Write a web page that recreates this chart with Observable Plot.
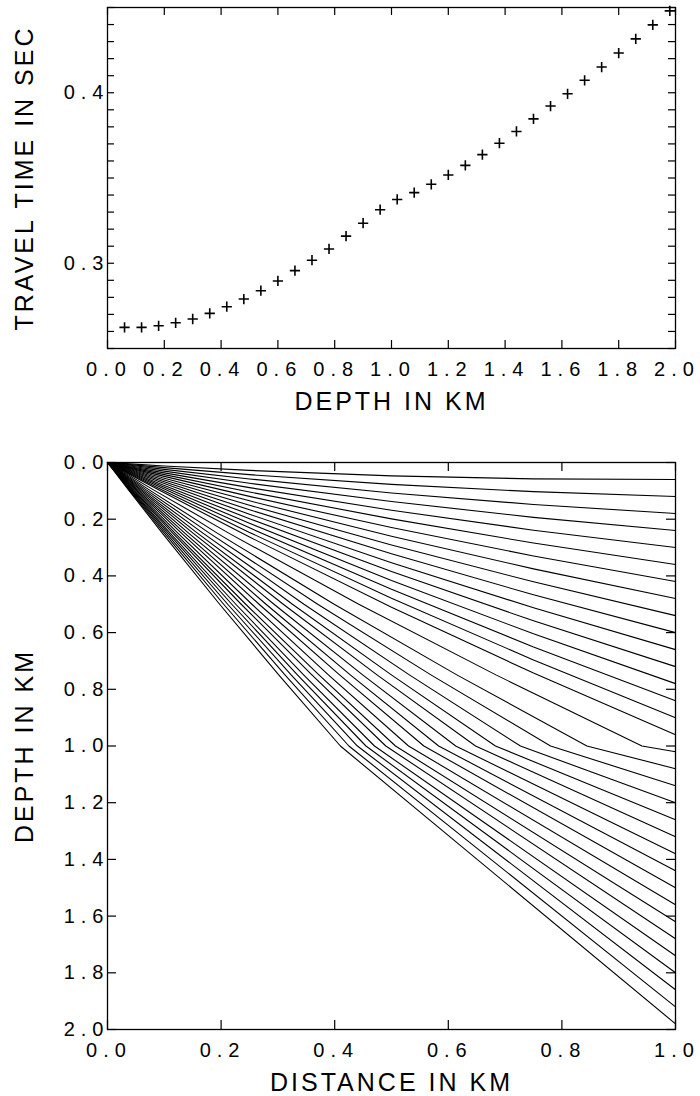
<!DOCTYPE html>
<html>
<head>
<meta charset="utf-8">
<script src="https://cdn.jsdelivr.net/npm/d3@7"></script>
<script src="https://cdn.jsdelivr.net/npm/@observablehq/plot@0.6"></script>
<style>
html, body { margin: 0; padding: 0; background: #fff; }
#chart { width: 700px; }
#chart svg { display: block; }
#chart g[aria-label$="tick label"] text { letter-spacing: 6px; }
#chart g[aria-label="text"] text { letter-spacing: 3px; }
</style>
</head>
<body>
<div id="chart"></div>
<script>
// ---- Top panel: travel time vs receiver depth ----
const depthKm = [0.06, 0.12, 0.18, 0.24, 0.30, 0.36, 0.42, 0.48, 0.54, 0.60, 0.66,
  0.72, 0.78, 0.84, 0.90, 0.96, 1.02, 1.08, 1.14, 1.20, 1.26, 1.32,
  1.38, 1.44, 1.50, 1.56, 1.62, 1.68, 1.74, 1.80, 1.86, 1.92, 1.98];
const travelTimeSec = [0.2624, 0.2624, 0.2633, 0.2651, 0.2673, 0.2706, 0.2745, 0.2790, 0.2839, 0.2896, 0.2957,
  0.3018, 0.3084, 0.3159, 0.3235, 0.3314, 0.3374, 0.3414, 0.3463, 0.3518, 0.3574, 0.3637,
  0.3704, 0.3773, 0.3847, 0.3922, 0.3994, 0.4073, 0.4151, 0.4233, 0.4316, 0.4398, 0.4480];

const topXTicks = [0.0, 0.2, 0.4, 0.6, 0.8, 1.0, 1.2, 1.4, 1.6, 1.8, 2.0];
const topYTicks = [0.25, 0.26, 0.27, 0.28, 0.29, 0.30, 0.31, 0.32, 0.33, 0.34, 0.35,
  0.36, 0.37, 0.38, 0.39, 0.40, 0.41, 0.42, 0.43, 0.44, 0.45];
const topYLabels = [0.3, 0.4];

// ---- Bottom panel: ray paths (distance x, depth z), one list per ray ----
const rayXs = [
  [0, 0.04, 0.1, 0.25, 0.5, 0.75, 1],
  [0, 0.04, 0.1, 0.25, 0.5, 0.75, 1],
  [0, 0.04, 0.1, 0.25, 0.5, 0.75, 1],
  [0, 0.04, 0.1, 0.25, 0.5, 0.75, 1],
  [0, 0.04, 0.1, 0.25, 0.5, 0.75, 1],
  [0, 0.04, 0.1, 0.25, 0.5, 0.75, 1],
  [0, 0.04, 0.1, 0.25, 0.5, 0.75, 1],
  [0, 0.04, 0.1, 0.25, 0.5, 0.75, 1],
  [0, 0.04, 0.1, 0.25, 0.5, 0.75, 1],
  [0, 0.04, 0.1, 0.25, 0.5, 0.75, 1],
  [0, 0.04, 0.1, 0.25, 0.5, 0.75, 1],
  [0, 0.04, 0.1, 0.25, 0.5, 0.75, 1],
  [0, 0.04, 0.1, 0.25, 0.5, 0.75, 1],
  [0, 0.04, 0.1, 0.25, 0.5, 0.75, 1],
  [0, 0.04, 0.1, 0.25, 0.5, 0.75, 1],
  [0, 0.04, 0.1, 0.25, 0.5, 0.75, 1],
  [0, 0.0840, 0.2142, 0.4424, 0.6847, 0.941, 1],
  [0, 0.0762, 0.1938, 0.3991, 0.6158, 0.844, 1],
  [0, 0.0708, 0.1801, 0.3701, 0.5701, 0.780, 1],
  [0, 0.0664, 0.1686, 0.3459, 0.5321, 0.727, 1],
  [0, 0.0626, 0.1589, 0.3256, 0.5004, 0.683, 1],
  [0, 0.0596, 0.1511, 0.3094, 0.4751, 0.648, 1],
  [0, 0.0565, 0.1433, 0.2931, 0.4498, 0.613, 1],
  [0, 0.0538, 0.1365, 0.2791, 0.4280, 0.583, 1],
  [0, 0.0515, 0.1306, 0.2669, 0.4091, 0.557, 1],
  [0, 0.0491, 0.1244, 0.2542, 0.3894, 0.530, 1],
  [0, 0.0471, 0.1192, 0.2434, 0.3727, 0.507, 1],
  [0, 0.0455, 0.1153, 0.2353, 0.3603, 0.490, 1],
  [0, 0.0437, 0.1107, 0.2259, 0.3457, 0.470, 1],
  [0, 0.0424, 0.1073, 0.2188, 0.3348, 0.455, 1],
  [0, 0.0410, 0.1037, 0.2116, 0.3237, 0.440, 1],
  [0, 0.0396, 0.1003, 0.2045, 0.3128, 0.425, 1],
  [0, 0.0383, 0.0968, 0.1974, 0.3018, 0.410, 1]
];
const rayZs = [
  [0, 0.0050, 0.0122, 0.0279, 0.0472, 0.0579, 0.06],
  [0, 0.0075, 0.0182, 0.0429, 0.0773, 0.1029, 0.12],
  [0, 0.0099, 0.0243, 0.0581, 0.1075, 0.1481, 0.18],
  [0, 0.0123, 0.0304, 0.0734, 0.1378, 0.1934, 0.24],
  [0, 0.0148, 0.0366, 0.0887, 0.1683, 0.2387, 0.30],
  [0, 0.0173, 0.0428, 0.1041, 0.1988, 0.2841, 0.36],
  [0, 0.0198, 0.0490, 0.1196, 0.2295, 0.3296, 0.42],
  [0, 0.0223, 0.0553, 0.1352, 0.2603, 0.3752, 0.48],
  [0, 0.0249, 0.0616, 0.1509, 0.2912, 0.4209, 0.54],
  [0, 0.0274, 0.0680, 0.1667, 0.3222, 0.4667, 0.60],
  [0, 0.0300, 0.0744, 0.1825, 0.3534, 0.5125, 0.66],
  [0, 0.0326, 0.0808, 0.1984, 0.3846, 0.5584, 0.72],
  [0, 0.0352, 0.0873, 0.2144, 0.4159, 0.6044, 0.78],
  [0, 0.0378, 0.0939, 0.2305, 0.4474, 0.6505, 0.84],
  [0, 0.0404, 0.1004, 0.2466, 0.4789, 0.6966, 0.90],
  [0, 0.0431, 0.1070, 0.2629, 0.5105, 0.7429, 0.96],
  [0, 0.1, 0.25, 0.5, 0.75, 1.0, 1.02],
  [0, 0.1, 0.25, 0.5, 0.75, 1.0, 1.08],
  [0, 0.1, 0.25, 0.5, 0.75, 1.0, 1.14],
  [0, 0.1, 0.25, 0.5, 0.75, 1.0, 1.20],
  [0, 0.1, 0.25, 0.5, 0.75, 1.0, 1.26],
  [0, 0.1, 0.25, 0.5, 0.75, 1.0, 1.32],
  [0, 0.1, 0.25, 0.5, 0.75, 1.0, 1.38],
  [0, 0.1, 0.25, 0.5, 0.75, 1.0, 1.44],
  [0, 0.1, 0.25, 0.5, 0.75, 1.0, 1.50],
  [0, 0.1, 0.25, 0.5, 0.75, 1.0, 1.56],
  [0, 0.1, 0.25, 0.5, 0.75, 1.0, 1.62],
  [0, 0.1, 0.25, 0.5, 0.75, 1.0, 1.68],
  [0, 0.1, 0.25, 0.5, 0.75, 1.0, 1.74],
  [0, 0.1, 0.25, 0.5, 0.75, 1.0, 1.80],
  [0, 0.1, 0.25, 0.5, 0.75, 1.0, 1.86],
  [0, 0.1, 0.25, 0.5, 0.75, 1.0, 1.92],
  [0, 0.1, 0.25, 0.5, 0.75, 1.0, 1.98]
];

const botXTicks = [0.0, 0.2, 0.4, 0.6, 0.8, 1.0];
const botYTicks = [0.0, 0.2, 0.4, 0.6, 0.8, 1.0, 1.2, 1.4, 1.6, 1.8, 2.0];

// ---- build tables ----
const timeRows = depthKm.map((d, i) => ({depth: d, time: travelTimeSec[i]}));
const rayRows = rayXs.flatMap((xs, i) => xs.map((x, j) => ({ray: i, x, z: rayZs[i][j]})));

const font = "'Liberation Sans', Arial, Helvetica, sans-serif";
const fmt = d => d.toFixed(1);

// top layout
const W = 700;
const tH = 420, tML = 107, tMR = 25, tMT = 7, tMB = 72;
const tFW = W - tML - tMR, tFH = tH - tMT - tMB;

const topPlot = Plot.plot({
  width: W, height: tH,
  marginLeft: tML, marginRight: tMR, marginTop: tMT, marginBottom: tMB,
  x: {domain: [0, 2]},
  y: {domain: [0.25, 0.45]},
  style: {fontFamily: font, color: "black", background: "white"},
  marks: [
    Plot.ruleX(topXTicks, {stroke: "black", strokeWidth: 1.2, insetTop: tFH - 8}),
    Plot.ruleX(topXTicks, {stroke: "black", strokeWidth: 1.2, insetBottom: tFH - 8}),
    Plot.ruleY(topYTicks, {stroke: "black", strokeWidth: 1.2, insetRight: tFW - 7}),
    Plot.ruleY(topYTicks, {stroke: "black", strokeWidth: 1.2, insetLeft: tFW - 7}),
    Plot.frame({stroke: "black", strokeWidth: 1.3}),
    Plot.axisX(topXTicks, {tickSize: 0, tickPadding: 13.5, fontSize: 20, tickFormat: fmt, label: null, dx: 1.5}),
    Plot.axisY(topYLabels, {tickSize: 0, tickPadding: -2, fontSize: 20, tickFormat: fmt, label: null}),
    Plot.dot(timeRows, {x: "depth", y: "time", symbol: "plus", r: 3.4, stroke: "black", strokeWidth: 1.6}),
    Plot.text(["DEPTH IN KM"], {frameAnchor: "bottom", dy: 61, lineAnchor: "bottom", fontSize: 25, fill: "black"}),
    Plot.text(["TRAVEL TIME IN SEC"], {frameAnchor: "left", textAnchor: "middle", rotate: -90, dx: -92, lineAnchor: "top", fontSize: 25, fill: "black"})
  ]
});

// bottom layout
const bH = 676, bML = 107, bMR = 25, bMT = 42, bMB = 67;
const bFW = W - bML - bMR, bFH = bH - bMT - bMB;

const botPlot = Plot.plot({
  width: W, height: bH,
  marginLeft: bML, marginRight: bMR, marginTop: bMT, marginBottom: bMB,
  x: {domain: [0, 1]},
  y: {domain: [0, 2], reverse: true},
  style: {fontFamily: font, color: "black", background: "white"},
  marks: [
    Plot.line(rayRows, {x: "x", y: "z", z: "ray", stroke: "black", strokeWidth: 1.1}),
    Plot.ruleX(botXTicks, {stroke: "black", strokeWidth: 1.2, insetTop: bFH - 9}),
    Plot.ruleX(botXTicks, {stroke: "black", strokeWidth: 1.2, insetBottom: bFH - 9}),
    Plot.ruleY(botYTicks, {stroke: "black", strokeWidth: 1.2, insetRight: bFW - 9}),
    Plot.ruleY(botYTicks, {stroke: "black", strokeWidth: 1.2, insetLeft: bFW - 9}),
    Plot.frame({stroke: "black", strokeWidth: 1.3}),
    Plot.axisX(botXTicks, {tickSize: 0, tickPadding: 13.5, fontSize: 20, tickFormat: fmt, label: null, dx: 1.5}),
    Plot.axisY(botYTicks, {tickSize: 0, tickPadding: -2, fontSize: 20, tickFormat: fmt, label: null}),
    Plot.text(["DISTANCE IN KM"], {frameAnchor: "bottom", dy: 61, lineAnchor: "bottom", fontSize: 25, fill: "black"}),
    Plot.text(["DEPTH IN KM"], {frameAnchor: "left", textAnchor: "middle", rotate: -90, dx: -92, lineAnchor: "top", fontSize: 25, fill: "black"})
  ]
});

const root = document.getElementById("chart");
root.appendChild(topPlot);
root.appendChild(botPlot);
</script>
</body>
</html>
